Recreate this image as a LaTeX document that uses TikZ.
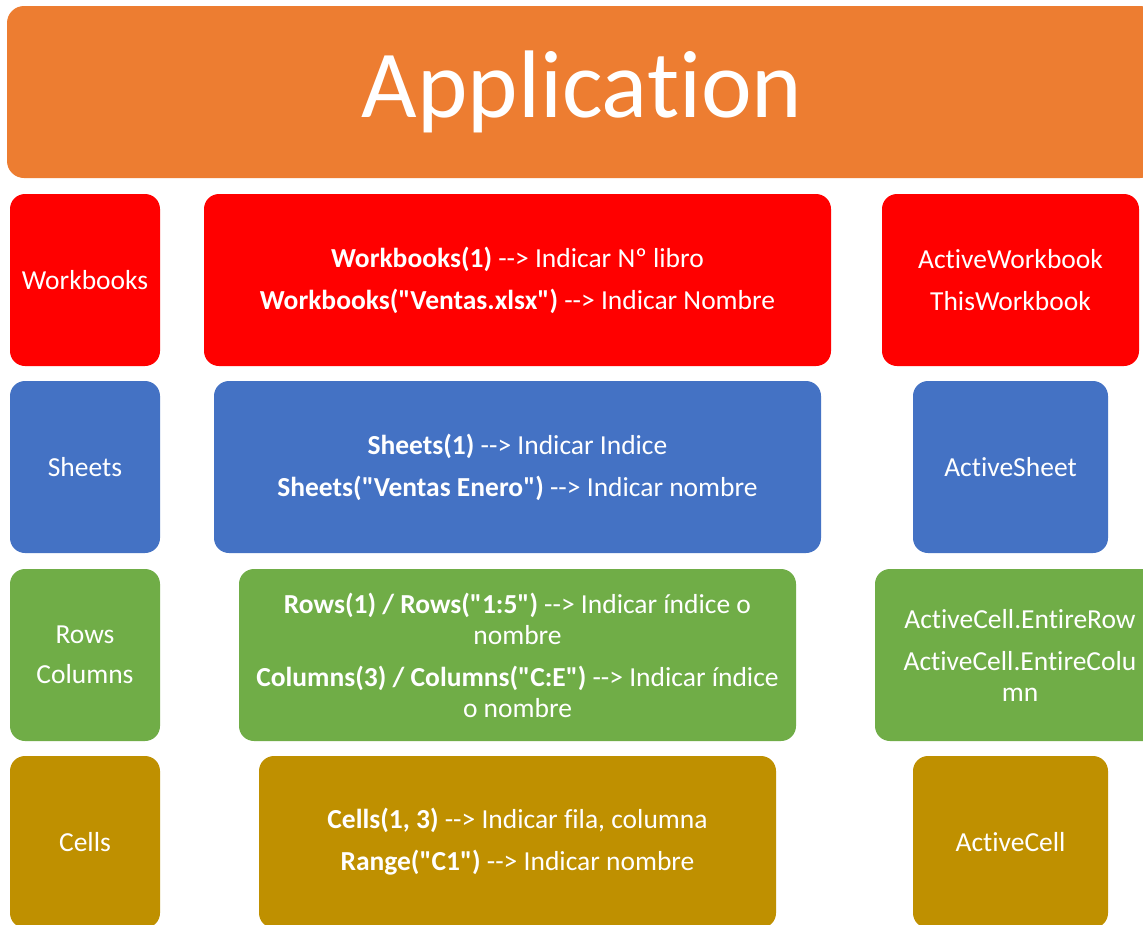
\documentclass[tikz,border=0pt]{standalone}
\usepackage{fontspec}
\setmainfont{Carlito}[Ligatures={TeXOff,NoCommon,NoContextual}]
\definecolor{appor}{HTML}{ED7D31}
\definecolor{wbred}{HTML}{FF0000}
\definecolor{shblue}{HTML}{4472C4}
\definecolor{rcgreen}{HTML}{70AD47}
\definecolor{clgold}{HTML}{BF9000}
\tikzset{
  box/.style={rounded corners=15pt, inner sep=0pt, outer sep=0pt, text=white, align=center,
    font=\fontsize{27.5}{31}\selectfont},
  boxat/.style args={#1/#2}{minimum width=#1pt, minimum height=#2pt},
}
\begin{document}
\begin{tikzpicture}[x=1pt,y=-1pt]
\useasboundingbox (0,0) rectangle (1143,924);
\fill[white] (0,0) rectangle (1143,924);
% Application
\node[box, fill=appor, boxat=1150/172, font=\fontsize{96}{110}\selectfont, rounded corners=17pt] (app) at (582,92) {Applicat\kern0pt ion};
% Row 1
\node[box, fill=wbred, boxat=150/172] (wbl) at (85,280) {Workbooks};
\node[box, fill=wbred, boxat=627/172] (wbm) at (517.5,280) {\textbf{Workbooks(1)} --> Indicar Nº libro\\[11pt]\textbf{Workbooks("Ventas.xlsx")} --> Indicar Nombre};
\node[box, fill=wbred, boxat=257/172] (wbr) at (1010.5,280) {ActiveWorkbook\\[11pt]ThisWorkbook};
% Row 2
\node[box, fill=shblue, boxat=150/172] (shl) at (85,467) {Sheets};
\node[box, fill=shblue, boxat=607/172] (shm) at (517.5,467) {\textbf{Sheets(1)} --> Indicar Indice\\[11pt]\textbf{Sheets("Ventas Enero")} --> Indicar nombre};
\node[box, fill=shblue, boxat=195/172] (shr) at (1010.5,467) {ActiveSheet};
% Row 3
\node[box, fill=rcgreen, boxat=150/172] (rcl) at (85,655) {Rows\\[9pt]Columns};
\node[box, fill=rcgreen, boxat=557/172] (rcm) at (517.5,655) {\textbf{Rows(1) / Rows("1:5")} --> Indicar índice o\\nombre\\[11pt]\textbf{Columns(3) / Columns("C:E")} --> Indicar índice\\o nombre};
\node[box, fill=rcgreen, boxat=290/172] (rcr) at (1020,655) {ActiveCell.EntireRow\\[11pt]ActiveCell.EntireColu\\mn};
% Row 4
\node[box, fill=clgold, boxat=150/172] (cll) at (85,842) {Cells};
\node[box, fill=clgold, boxat=517/172] (clm) at (517.5,842) {\textbf{Cells(1, 3)} --> Indicar fila, columna\\[11pt]\textbf{Range("C1")} --> Indicar nombre};
\node[box, fill=clgold, boxat=195/172] (clr) at (1010.5,842) {ActiveCell};
\end{tikzpicture}
\end{document}
